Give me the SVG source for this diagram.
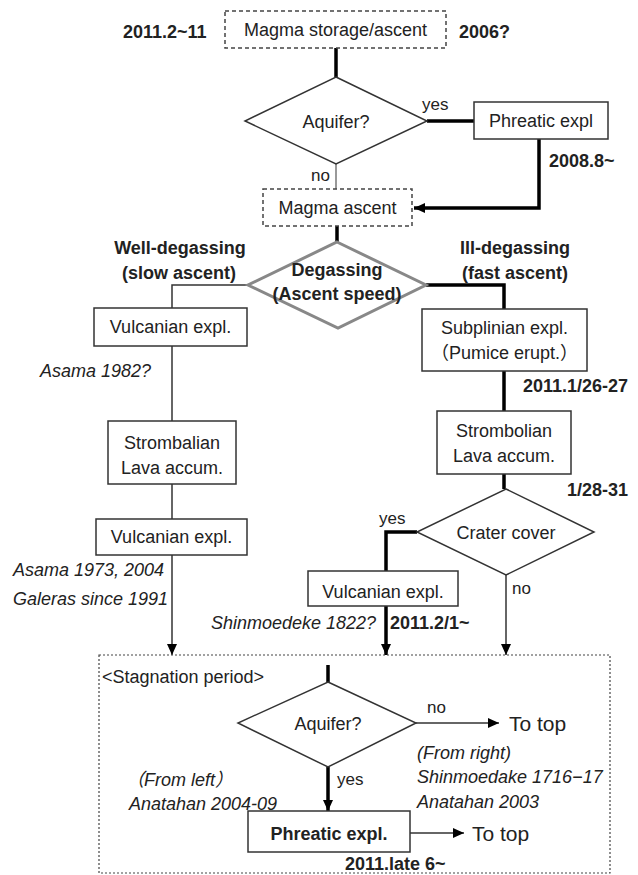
<svg xmlns="http://www.w3.org/2000/svg" width="638" height="875" viewBox="0 0 638 875">
<style>
text{font-family:"Liberation Sans","Noto Sans CJK JP",sans-serif;fill:#222;}
.n{font-size:18px;text-anchor:middle;}
.b{font-size:18px;font-weight:bold;}
.i{font-size:18px;font-style:italic;}
.l{font-size:17px;}
.box{fill:#fff;stroke:#333;stroke-width:1.5;}
.dash{fill:#fff;stroke:#444;stroke-width:1.5;stroke-dasharray:4 3;}
.thin{fill:none;stroke:#333;stroke-width:1.5;}
.thick{fill:none;stroke:#000;stroke-width:3.5;}
.gray{fill:none;stroke:#999;stroke-width:2;}
</style>
<defs>
<marker id="ah" markerUnits="userSpaceOnUse" markerWidth="12" markerHeight="10" refX="11" refY="5" orient="auto">
<path d="M0,0 L11,5 L0,10 Z" fill="#000"/>
</marker>
</defs>

<g id="connectors">
<path class="thick" d="M336,48 V77"/>
<path class="thick" d="M427,121 H474"/>
<path class="gray" d="M336,164 V189"/>
<path class="thick" d="M539,139 V208 H414" marker-end="url(#ah)"/>
<path class="thick" d="M337,226 V242"/>
<path class="thin" d="M248,285 H172 V308"/>
<path class="thick" d="M426,285 H504 V309"/>
<path class="thin" d="M172,346 V421"/>
<path class="thick" d="M504,371 V411"/>
<path class="thin" d="M172,484 V519"/>
<path class="thick" d="M504,474 V489"/>
<path class="thin" d="M172,555 V655" marker-end="url(#ah)"/>
<path class="thick" d="M417,532 H386 V571"/>
<path class="thick" d="M386,606 V655" marker-end="url(#ah)"/>
<path class="thin" d="M506,575 V655" marker-end="url(#ah)"/>
<path class="thick" d="M328,665 V682"/>
<path class="thin" d="M416,723 H499" marker-end="url(#ah)"/>
<path class="thick" d="M328,767 V811" marker-end="url(#ah)"/>
<path class="thin" d="M410,833 H464" marker-end="url(#ah)"/>
</g>

<g id="stagnation">
<rect x="99" y="655" width="511" height="218" fill="none" stroke="#444" stroke-width="1.2" stroke-dasharray="2 2"/>
<text x="102" y="683" font-size="18">&lt;Stagnation period&gt;</text>
</g>

<g id="magma-storage">
<rect class="dash" x="225" y="11" width="221" height="37"/>
<text class="n" x="335.5" y="36" font-size="19">Magma storage/ascent</text>
</g>
<text class="b" x="123" y="38">2011.2~11</text>
<text class="b" x="459" y="38">2006?</text>

<g id="aquifer1">
<polygon class="box" points="336,77 427,121 336,164 245,121"/>
<text class="n" x="336" y="128">Aquifer?</text>
</g>
<text class="l" x="422" y="110">yes</text>
<text class="l" x="311" y="181">no</text>

<g id="phreatic1">
<rect class="box" x="474" y="102" width="134" height="37"/>
<text class="n" x="541" y="127">Phreatic expl</text>
</g>
<text class="b" x="549" y="167">2008.8~</text>

<g id="magma-ascent">
<rect class="dash" x="263" y="189" width="149" height="37"/>
<text class="n" x="337.5" y="214">Magma ascent</text>
</g>

<g id="degassing">
<polygon points="337,242 426,285 338,328 248,285" fill="#fff" stroke="#888" stroke-width="3"/>
<text class="n" x="337" y="276" font-weight="bold">Degassing</text>
<text class="n" x="337" y="300" font-weight="bold">(Ascent speed)</text>
</g>
<text class="n" x="180" y="254" font-weight="bold">Well-degassing</text>
<text class="n" x="179" y="279" font-weight="bold">(slow ascent)</text>
<text class="n" x="515" y="254" font-weight="bold">Ill-degassing</text>
<text class="n" x="515" y="279" font-weight="bold">(fast ascent)</text>

<g id="vulcanian1">
<rect class="box" x="94" y="308" width="153" height="38"/>
<text class="n" x="170.5" y="333">Vulcanian expl.</text>
</g>
<text class="i" x="40" y="377">Asama 1982?</text>

<g id="subplinian">
<rect class="box" x="422" y="309" width="165" height="62"/>
<text class="n" x="504.5" y="334">Subplinian expl.</text>
<text class="n" x="504.5" y="359">（Pumice erupt.）</text>
</g>
<text class="b" x="523" y="392">2011.1/26-27</text>

<g id="strombalian-left">
<rect class="box" x="108" y="421" width="128" height="63"/>
<text class="n" x="172" y="449">Strombalian</text>
<text class="n" x="172" y="474">Lava accum.</text>
</g>

<g id="strombolian-right">
<rect class="box" x="437" y="411" width="134" height="63"/>
<text class="n" x="504" y="437">Strombolian</text>
<text class="n" x="504" y="462">Lava accum.</text>
</g>
<text class="b" x="567" y="496">1/28-31</text>

<g id="vulcanian2">
<rect class="box" x="96" y="519" width="151" height="36"/>
<text class="n" x="171.5" y="543">Vulcanian expl.</text>
</g>
<text class="i" x="13" y="576">Asama 1973, 2004</text>
<text class="i" x="13" y="605">Galeras since 1991</text>

<g id="crater-cover">
<polygon class="box" points="506,489 594,532 506,575 417,532"/>
<text class="n" x="506" y="539">Crater cover</text>
</g>
<text class="l" x="379" y="524">yes</text>
<text class="l" x="512" y="594">no</text>

<g id="vulcanian3">
<rect class="box" x="308" y="571" width="150" height="35"/>
<text class="n" x="383" y="598">Vulcanian expl.</text>
</g>
<text class="i" x="211" y="629" font-size="17.5">Shinmoedeke 1822?</text>
<text class="b" x="390" y="629" font-size="15.5">2011.2/1~</text>

<g id="aquifer2">
<polygon class="box" points="328,682 416,723 328,767 238,723"/>
<text class="n" x="328" y="730">Aquifer?</text>
</g>
<text class="l" x="427" y="713">no</text>
<text x="509" y="731" font-size="21">To top</text>
<text class="l" x="337" y="785">yes</text>

<g id="phreatic2">
<rect class="box" x="248" y="811" width="162" height="41"/>
<text class="n" x="329" y="840" font-weight="bold" font-size="21.5">Phreatic expl.</text>
</g>
<text x="472" y="841" font-size="21">To top</text>
<text class="b" x="345" y="870" font-size="16">2011.late 6~</text>

<text class="i" x="126" y="786">（From left）</text>
<text class="i" x="129" y="810">Anatahan 2004-09</text>
<text class="i" x="417" y="759">(From right)</text>
<text class="i" x="417" y="783">Shinmoedake 1716−17</text>
<text class="i" x="417" y="808">Anatahan 2003</text>
</svg>
